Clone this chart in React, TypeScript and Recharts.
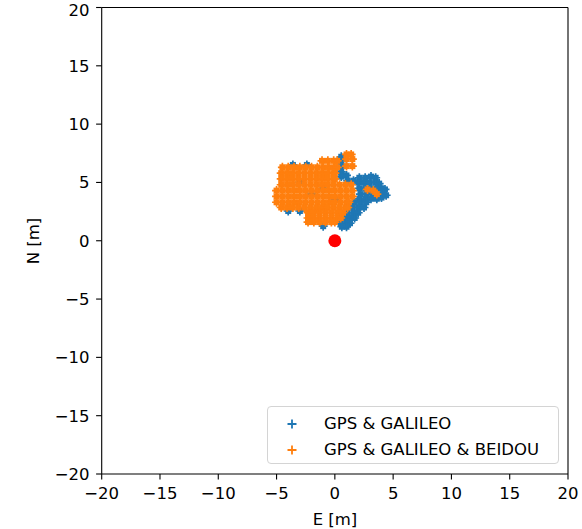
import {
  ScatterChart,
  Scatter,
  XAxis,
  YAxis,
  ReferenceLine,
} from 'recharts';

// E/N axis ticks, metres
const ticks = [-20, -15, -10, -5, 0, 5, 10, 15, 20];

// GPS & GALILEO fixes [E, N]; most of this cloud lies under the other one,
// so the visible fringe is listed in detail
const gpsGalileo: [number, number][] = [
  // thin strip right of the upper lobe
  [0.55, 7.2], [0.55, 6.8], [0.55, 6.4], [0.55, 5.9], [0.55, 5.5], [1.0, 5.6],
  [1.1, 5.15], [1.6, 5.15],
  // eastern blob
  [2.1, 5.4], [2.6, 5.4], [3.1, 5.5], [3.5, 5.4],
  [2.0, 5.0], [2.5, 5.0], [3.0, 5.0], [3.5, 5.0], [3.8, 4.9],
  [2.1, 4.5], [2.6, 4.5], [3.1, 4.5], [3.6, 4.5], [4.0, 4.5], [4.3, 4.4],
  [2.2, 4.0], [2.7, 4.0], [3.2, 4.0], [3.7, 4.0], [4.2, 4.0], [4.4, 3.9],
  [2.1, 3.6], [2.6, 3.6], [3.1, 3.6], [3.6, 3.6], [4.0, 3.7],
  // band along the south-east edge
  [1.7, 3.3], [2.2, 3.3], [2.7, 3.3],
  [1.5, 2.85], [2.0, 2.85], [2.5, 2.85],
  [1.1, 2.4], [1.6, 2.4], [2.0, 2.4],
  [0.8, 1.95], [1.3, 1.95], [1.7, 1.95],
  [0.5, 1.5], [1.0, 1.5], [1.3, 1.5],
  [0.6, 1.2], [1.0, 1.2],
  // specks at the edge of the other cloud
  [-4.0, 2.55], [-3.0, 2.55], [-1.0, 1.25], [-3.6, 6.5], [-2.4, 6.5],
  [-2.0, 4.0], [-1.0, 4.5], [0.0, 3.5], [-3.0, 5.0],
];

// GPS & GALILEO & BEIDOU fixes [E, N]
const gpsGalileoBeidou: [number, number][] = [
  [1.0, 7.4], [1.4, 7.4],
  [1.0, 7.0], [1.5, 7.0],
  [-1.1, 6.85], [-0.6, 6.85], [-0.1, 6.85], [0.2, 6.85],
  [1.0, 6.4], [1.5, 6.4],
  [-4.5, 6.3], [-4.0, 6.3], [-3.5, 6.3], [-3.0, 6.3], [-2.5, 6.3], [-2.0, 6.3],
  [-1.5, 6.3], [-1.0, 6.3], [-0.5, 6.3], [0.0, 6.3], [0.2, 6.3],
  [-4.6, 5.8], [-4.1, 5.8], [-3.6, 5.8], [-3.1, 5.8], [-2.6, 5.8], [-2.1, 5.8],
  [-1.6, 5.8], [-1.1, 5.8], [-0.6, 5.8], [-0.1, 5.8], [0.0, 5.8],
  [-4.6, 5.3], [-4.1, 5.3], [-3.6, 5.3], [-3.1, 5.3], [-2.6, 5.3], [-2.1, 5.3],
  [-1.6, 5.3], [-1.1, 5.3], [-0.6, 5.3], [-0.1, 5.3], [0.0, 5.3],
  [-4.6, 4.8], [-4.1, 4.8], [-3.6, 4.8], [-3.1, 4.8], [-2.6, 4.8], [-2.1, 4.8],
  [-1.6, 4.8], [-1.1, 4.8], [-0.6, 4.8], [-0.1, 4.8], [0.4, 4.8], [0.9, 4.8],
  [1.4, 4.8],
  [-5.0, 4.3], [-4.5, 4.3], [-4.0, 4.3], [-3.5, 4.3], [-3.0, 4.3], [-2.5, 4.3],
  [-2.0, 4.3], [-1.5, 4.3], [-1.0, 4.3], [-0.5, 4.3], [0.0, 4.3], [0.5, 4.3],
  [1.0, 4.3], [1.5, 4.3],
  [-5.0, 3.8], [-4.5, 3.8], [-4.0, 3.8], [-3.5, 3.8], [-3.0, 3.8], [-2.5, 3.8],
  [-2.0, 3.8], [-1.5, 3.8], [-1.0, 3.8], [-0.5, 3.8], [0.0, 3.8], [0.5, 3.8],
  [1.0, 3.8], [1.5, 3.8],
  [-5.0, 3.3], [-4.5, 3.3], [-4.0, 3.3], [-3.5, 3.3], [-3.0, 3.3], [-2.5, 3.3],
  [-2.0, 3.3], [-1.5, 3.3], [-1.0, 3.3], [-0.5, 3.3], [0.0, 3.3], [0.5, 3.3],
  [1.0, 3.3], [1.2, 3.3],
  [-4.6, 2.85], [-4.1, 2.85], [-3.6, 2.85], [-3.1, 2.85], [-2.6, 2.85], [-2.1, 2.85],
  [-1.6, 2.85], [-1.1, 2.85], [-0.6, 2.85], [-0.1, 2.85], [0.4, 2.85], [0.9, 2.85],
  [1.1, 2.85],
  [-2.3, 2.4], [-1.8, 2.4], [-1.3, 2.4], [-0.8, 2.4], [-0.3, 2.4], [0.2, 2.4],
  [0.7, 2.4],
  [-2.3, 1.95], [-1.8, 1.95], [-1.3, 1.95], [-0.8, 1.95], [-0.3, 1.95], [0.2, 1.95],
  [0.5, 1.95],
  [-2.3, 1.6], [-1.8, 1.6], [-1.3, 1.6], [-0.8, 1.6], [-0.3, 1.6], [0.0, 1.6],
  // specks inside the eastern blob of the other cloud
  [2.8, 4.4], [3.3, 4.3], [3.6, 4.0],
];

// receiver reference position
const reference: [number, number][] = [[0, 0]];

const BLUE = '#1f77b4';
const ORANGE = '#ff7f0e';
const FONT = 'DejaVu Sans';

const toPoints = (rows: [number, number][]) => rows.map(([x, y]) => ({ x, y }));

const fmt = (v: number) => (v < 0 ? '\u2212' + Math.abs(v) : String(v));

const plusShape = (color: string) => (props: any) => {
  const { cx, cy } = props;
  return (
    <g>
      <rect x={cx - 3} y={cy - 3} width={6} height={6} fill={color} />
      <path
        d={`M${cx - 4.5},${cy}H${cx + 4.5}M${cx},${cy - 4.5}V${cy + 4.5}`}
        stroke={color}
        strokeWidth={1.7}
      />
    </g>
  );
};

const dotShape = (props: any) => <circle cx={props.cx} cy={props.cy} r={6.5} fill='#ff0000' />;

const LegendPlus = ({ color }: { color: string }) => (
  <svg width={12} height={12} style={{ display: 'block' }}>
    <path d='M1.5,6H10.5M6,1.5V10.5' stroke={color} strokeWidth={1.8} />
  </svg>
);

const App = () => {
  return (
    <div style={{ position: 'absolute', left: 0, top: 0, width: 582, height: 529, fontFamily: FONT }}>
      <ScatterChart
        width={582}
        height={529}
        margin={{ top: 7.5, right: 14, bottom: 0, left: 0 }}
      >
        <XAxis
          type='number'
          dataKey='x'
          domain={[-20, 20]}
          ticks={ticks}
          tickFormatter={fmt}
          height={55}
          tickSize={5.6}
          tickMargin={7.5}
          stroke='#000'
          strokeWidth={1.1}
          tick={{ fill: '#000', fontSize: 16.5, fontFamily: FONT }}
          allowDataOverflow
          label={() => (
            <text x={335} y={525} textAnchor='middle' fontSize={16.5} fontFamily={FONT} fill='#000'>
              E [m]
            </text>
          )}
        />
        <YAxis
          type='number'
          dataKey='y'
          domain={[-20, 20]}
          ticks={ticks}
          tickFormatter={fmt}
          width={101.7}
          tickSize={5.6}
          tickMargin={6.6}
          stroke='#000'
          strokeWidth={1.1}
          tick={{ fill: '#000', fontSize: 16.5, fontFamily: FONT }}
          allowDataOverflow
          label={() => (
            <text
              x={39}
              y={241}
              transform='rotate(-90 39 241)'
              textAnchor='middle'
              fontSize={16.5}
              fontFamily={FONT}
              fill='#000'
            >
              N [m]
            </text>
          )}
        />
        <ReferenceLine y={20} stroke='#000' strokeWidth={1.1} />
        <ReferenceLine x={20} stroke='#000' strokeWidth={1.1} />
        <Scatter
          name='GPS & GALILEO'
          data={toPoints(gpsGalileo)}
          shape={plusShape(BLUE)}
          isAnimationActive={false}
        />
        <Scatter
          name='GPS & GALILEO & BEIDOU'
          data={toPoints(gpsGalileoBeidou)}
          shape={plusShape(ORANGE)}
          isAnimationActive={false}
        />
        <Scatter data={toPoints(reference)} shape={dotShape} isAnimationActive={false} />
      </ScatterChart>
      <div
        style={{
          position: 'absolute',
          left: 267,
          top: 406,
          width: 290,
          height: 56,
          border: '1px solid #d4d4d4',
          borderRadius: 4,
          background: 'rgba(255,255,255,0.8)',
          fontSize: 16.5,
          color: '#000',
        }}
      >
        {[
          { label: 'GPS & GALILEO', color: BLUE, top: 10 },
          { label: 'GPS & GALILEO & BEIDOU', color: ORANGE, top: 36 },
        ].map((it) => (
          <div
            key={it.label}
            style={{ position: 'absolute', left: 18, top: it.top, display: 'flex', alignItems: 'center', height: 14 }}
          >
            <LegendPlus color={it.color} />
            <span style={{ marginLeft: 26, whiteSpace: 'nowrap', lineHeight: '14px' }}>{it.label}</span>
          </div>
        ))}
      </div>
    </div>
  );
};

export default App;
